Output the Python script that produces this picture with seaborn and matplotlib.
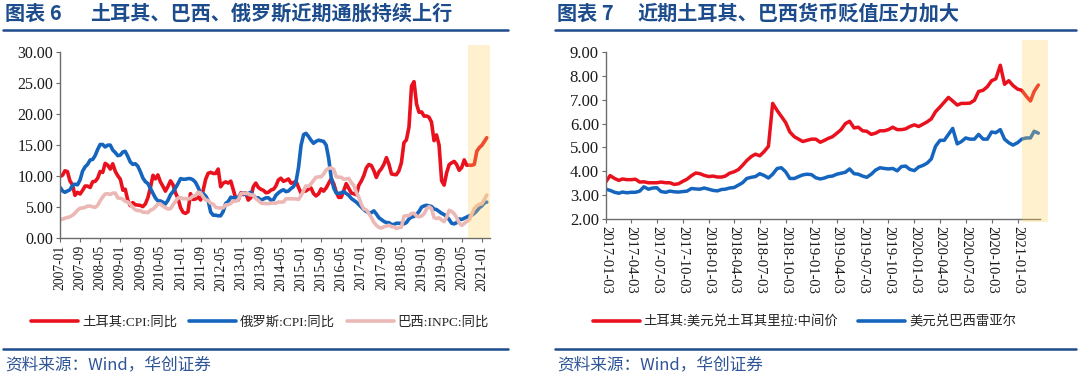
'''turkey / brazil / russia inflation and fx panels'''
import numpy as np
import pandas as pd
import seaborn as sns
import matplotlib.pyplot as plt
import matplotlib.dates as mdates
from matplotlib import ticker, transforms
from matplotlib.lines import Line2D
from matplotlib.patches import Rectangle

#region data
# left panel: monthly yoy, 2007-01 .. 2021-03
CPI_START = '2007-01-01'
turkey_cpi = [
    9.93, 10.16, 10.86, 10.72, 9.23, 8.60, 6.90, 7.39, 7.12, 7.70, 8.40, 8.39,
    8.17, 9.10, 9.15, 9.66, 10.74, 10.61, 12.06, 11.77, 11.13, 11.99, 10.76, 10.06,
    9.50, 7.73, 7.89, 6.13, 5.24, 5.73, 5.39, 5.33, 5.27, 5.08, 5.53, 6.53,
    8.19, 10.13, 9.56, 10.19, 9.10, 8.37, 7.58, 8.33, 9.24, 8.62, 7.29, 6.40,
    4.90, 4.16, 3.99, 4.26, 7.17, 6.24, 6.31, 6.65, 6.15, 7.66, 9.48, 10.45,
    10.61, 10.43, 10.43, 11.14, 8.28, 8.87, 9.07, 8.88, 9.19, 7.80, 6.37, 6.16,
    7.31, 7.03, 7.29, 6.13, 6.51, 8.30, 8.88, 8.17, 7.88, 7.71, 7.32, 7.40,
    7.75, 7.89, 8.39, 9.38, 9.66, 9.16, 9.32, 9.54, 8.86, 8.96, 9.15, 8.17,
    7.24, 7.55, 7.61, 7.91, 8.09, 7.20, 6.81, 7.14, 7.95, 7.58, 8.10, 8.81,
    9.58, 8.78, 7.46, 6.57, 6.58, 7.64, 8.79, 8.05, 7.28, 7.16, 7.00, 8.53,
    9.22, 10.13, 11.29, 11.87, 11.72, 10.90, 9.79, 10.68, 11.20, 11.90, 12.98, 11.92,
    10.35, 10.26, 10.23, 10.85, 12.15, 15.39, 15.85, 17.90, 24.52, 25.24, 21.62, 20.30,
    20.35, 19.67, 19.71, 19.50, 18.71, 15.72, 16.65, 15.01, 9.26, 8.55, 10.56, 11.84,
    12.15, 12.37, 11.86, 10.94, 11.39, 12.62, 11.76, 11.77, 11.75, 11.89, 14.03, 14.60,
    14.97, 15.61, 16.19]
russia_cpi = [
    8.2, 7.6, 7.4, 7.6, 7.8, 8.5, 8.7, 8.6, 9.4, 10.8, 11.5, 11.9,
    12.6, 12.7, 13.3, 14.3, 15.1, 15.1, 14.7, 15.0, 15.0, 14.2, 13.8, 13.3,
    13.4, 13.9, 14.0, 13.2, 12.3, 11.9, 12.0, 11.6, 10.7, 9.7, 9.1, 8.8,
    8.0, 7.2, 6.5, 6.0, 6.0, 5.8, 5.5, 6.1, 7.0, 7.5, 8.1, 8.8,
    9.6, 9.5, 9.5, 9.6, 9.6, 9.4, 9.0, 8.2, 7.2, 7.2, 6.8, 6.1,
    4.2, 3.7, 3.7, 3.6, 3.6, 4.3, 5.6, 5.9, 6.6, 6.5, 6.5, 6.6,
    7.1, 7.3, 7.0, 7.2, 7.4, 6.9, 6.5, 6.5, 6.1, 6.3, 6.5, 6.5,
    6.1, 6.2, 6.9, 7.3, 7.6, 7.8, 7.5, 7.6, 8.0, 8.3, 9.1, 11.4,
    15.0, 16.7, 16.9, 16.4, 15.8, 15.3, 15.6, 15.8, 15.7, 15.6, 15.0, 12.9,
    9.8, 8.1, 7.3, 7.2, 7.3, 7.5, 7.2, 6.9, 6.4, 6.1, 5.8, 5.4,
    5.0, 4.6, 4.3, 4.1, 4.1, 4.4, 3.9, 3.3, 3.0, 2.7, 2.5, 2.5,
    2.2, 2.2, 2.4, 2.4, 2.4, 2.3, 2.5, 3.1, 3.4, 3.5, 3.8, 4.3,
    5.0, 5.2, 5.3, 5.2, 5.1, 4.7, 4.6, 4.3, 4.0, 3.8, 3.5, 3.0,
    2.4, 2.3, 2.5, 3.1, 3.0, 3.2, 3.4, 3.6, 3.7, 4.0, 4.4, 4.9,
    5.2, 5.7, 5.8]
brazil_inpc = [
    2.99, 3.05, 3.22, 3.34, 3.44, 3.69, 4.03, 4.51, 4.83, 4.84, 4.98, 5.16,
    5.17, 5.05, 4.96, 5.29, 6.02, 6.63, 7.12, 7.15, 7.04, 7.26, 7.26, 6.48,
    6.43, 6.27, 5.94, 5.83, 5.45, 4.94, 4.57, 4.44, 4.44, 4.18, 4.18, 4.11,
    4.51, 4.68, 5.02, 5.49, 5.52, 5.17, 4.92, 4.69, 4.75, 5.39, 5.95, 6.47,
    6.53, 6.35, 6.39, 6.30, 6.44, 6.80, 6.87, 7.40, 7.30, 6.66, 6.17, 6.08,
    5.63, 5.47, 4.97, 4.88, 4.86, 4.90, 5.36, 5.39, 5.58, 5.99, 5.95, 6.20,
    7.16, 7.22, 7.22, 7.16, 6.95, 6.97, 6.38, 6.07, 5.69, 5.58, 5.58, 5.56,
    5.63, 5.68, 5.62, 5.82, 5.82, 5.82, 6.33, 6.35, 6.34, 6.34, 6.33, 6.23,
    6.86, 7.68, 8.42, 8.34, 8.76, 9.31, 9.81, 9.88, 9.90, 10.33, 10.97, 11.28,
    11.31, 11.08, 9.91, 9.83, 9.82, 9.49, 9.56, 9.62, 8.98, 8.50, 7.39, 6.58,
    5.44, 4.69, 4.57, 3.99, 3.35, 2.56, 2.08, 1.73, 1.63, 1.83, 1.95, 2.07,
    1.87, 1.81, 1.56, 1.69, 1.76, 3.53, 3.61, 3.64, 3.97, 4.00, 3.56, 3.43,
    3.57, 3.94, 4.67, 5.07, 4.78, 3.31, 3.16, 3.28, 2.92, 2.67, 3.37, 4.48,
    4.30, 3.92, 3.31, 2.46, 2.05, 2.35, 2.69, 2.94, 3.89, 4.77, 5.20, 5.45,
    5.53, 6.22, 6.94]

# right panel: fx, sampled on the 3rd and 18th of each month, 2017-01 .. 2021-03
FX_START = '2017-01-01'
usd_try = [
    3.56, 3.82, 3.70, 3.62, 3.68, 3.65, 3.65, 3.67, 3.55, 3.56, 3.52, 3.52,
    3.52, 3.55, 3.52, 3.52, 3.45, 3.48, 3.58, 3.67, 3.82, 3.93, 3.90, 3.83,
    3.78, 3.80, 3.76, 3.76, 3.80, 3.92, 3.98, 4.07, 4.25, 4.45, 4.62, 4.72,
    4.65, 4.82, 5.05, 6.85, 6.55, 6.30, 6.05, 5.65, 5.45, 5.35, 5.25, 5.30,
    5.35, 5.35, 5.22, 5.30, 5.38, 5.45, 5.60, 5.75, 6.00, 6.10, 5.82, 5.85,
    5.70, 5.68, 5.55, 5.60, 5.70, 5.70, 5.75, 5.85, 5.75, 5.75, 5.78, 5.88,
    5.95, 5.88, 5.98, 6.08, 6.20, 6.50, 6.70, 6.90, 7.10, 6.95, 6.78, 6.85,
    6.85, 6.86, 6.98, 7.35, 7.40, 7.55, 7.80, 7.88, 8.45, 7.65, 7.80, 7.60,
    7.45, 7.40, 7.15, 6.95, 7.35, 7.62]
usd_brl = [
    3.25, 3.20, 3.12, 3.08, 3.13, 3.10, 3.12, 3.12, 3.17, 3.35, 3.25, 3.30,
    3.31, 3.15, 3.12, 3.17, 3.14, 3.13, 3.15, 3.17, 3.28, 3.26, 3.25, 3.30,
    3.25, 3.20, 3.18, 3.24, 3.25, 3.30, 3.32, 3.42, 3.52, 3.70, 3.75, 3.78,
    3.90, 3.83, 3.72, 3.88, 4.12, 4.15, 3.98, 3.70, 3.70, 3.78, 3.85, 3.88,
    3.86, 3.73, 3.68, 3.72, 3.78, 3.80, 3.88, 3.92, 3.96, 4.10, 3.90, 3.88,
    3.80, 3.75, 3.88, 4.05, 4.15, 4.12, 4.10, 4.12, 4.02, 4.20, 4.22, 4.08,
    4.03, 4.18, 4.25, 4.35, 4.52, 5.05, 5.30, 5.30, 5.55, 5.80, 5.15, 5.25,
    5.40, 5.35, 5.35, 5.55, 5.35, 5.35, 5.65, 5.62, 5.75, 5.35, 5.20, 5.10,
    5.20, 5.35, 5.40, 5.40, 5.68, 5.60]

CPI_LABELS = ['土耳其:CPI:同比', '俄罗斯:CPI:同比', '巴西:INPC:同比']
FX_LABELS = ['土耳其:美元兑土耳其里拉:中间价', '美元兑巴西雷亚尔']
TITLE_NO = ['图表 6', '图表 7']
TITLE_TXT = ['土耳其、巴西、俄罗斯近期通胀持续上行', '近期土耳其、巴西货币贬值压力加大']
SOURCE = '资料来源：Wind，华创证券'
#endregion

RED = '#E8111D'
BLUE = '#1565BF'
PINK = '#EBB8B6'
NAVY = '#1D4C8C'
AXC = '#6b6b6b'
SHADE = '#FFD25A'
SERIF = 'Liberation Serif'
MIXED = [SERIF, 'Noto Sans CJK SC']

sns.set_style('ticks')
plt.rcParams['font.family'] = MIXED
plt.rcParams['axes.edgecolor'] = AXC

months = pd.date_range(CPI_START, periods=len(turkey_cpi), freq='MS')
cpi = pd.DataFrame({'date': np.tile(months, 3),
                    'value': turkey_cpi + russia_cpi + brazil_inpc,
                    'series': np.repeat(CPI_LABELS, len(months))})

fx_months = pd.date_range(FX_START, periods=(len(usd_try) + 1) // 2, freq='MS')
fx_dates = np.array([d + pd.Timedelta(days=k) for d in fx_months for k in (2, 17)])[:len(usd_try)]
fx = pd.DataFrame({'date': np.tile(fx_dates, 2),
                   'value': usd_try + usd_brl,
                   'series': np.repeat(FX_LABELS, len(fx_dates))})
fx['date'] = pd.to_datetime(fx['date'])

fig = plt.figure(figsize=(10.8, 3.75), dpi=100)
ax1 = fig.add_axes([0.0556, 0.365, 0.398, 0.496])
ax2 = fig.add_axes([0.561, 0.416, 0.402, 0.445])

sns.lineplot(data=cpi, x='date', y='value', hue='series', hue_order=CPI_LABELS,
             palette=[RED, BLUE, PINK], linewidth=2.6, ax=ax1, legend=False)
sns.lineplot(data=fx, x='date', y='value', hue='series', hue_order=FX_LABELS,
             palette=[RED, BLUE], linewidth=2.5, ax=ax2, legend=False)


def style_axis(ax, ylim, yticks):
    '''common axis dressing'''
    ax.set_ylim(*ylim)
    ax.set_yticks(yticks)
    ax.yaxis.set_major_formatter(ticker.FormatStrFormatter('%.2f'))
    ax.set_xlabel('')
    ax.set_ylabel('')
    sns.despine(ax=ax)
    ax.spines['left'].set_linewidth(1.0)
    ax.spines['bottom'].set_linewidth(1.0)
    ax.tick_params(length=3, width=0.8, color=AXC, labelcolor='#1a1a1a', pad=2,
                   labelfontfamily=SERIF)


style_axis(ax1, (0, 30), np.arange(0, 31, 5))
ax1.set_xlim(months[0], pd.Timestamp('2021-04-08'))
ax1.set_xticks(months[::8])
ax1.set_xticklabels([d.strftime('%Y-%m') for d in months[::8]], rotation=90,
                    family=SERIF)
ax1.tick_params(axis='y', labelsize=11.5)
ax1.tick_params(axis='x', labelsize=9.8)

style_axis(ax2, (2, 9), np.arange(2, 10, 1))
ax2.set_xlim(pd.Timestamp('2017-01-03'), pd.Timestamp('2021-03-24'))
q_ticks = pd.date_range('2017-01-01', '2021-01-01', freq='QS') + pd.Timedelta(days=2)
ax2.set_xticks(q_ticks)
ax2.set_xticklabels([d.strftime('%Y-%m-%d') for d in q_ticks], rotation=-90,
                    family=SERIF)
ax2.tick_params(axis='y', labelsize=12)
ax2.tick_params(axis='x', labelsize=10.5)


# highlighted recent window
def shade(ax, start, end, y0, h):
    trans = transforms.blended_transform_factory(ax.transData, ax.transAxes)
    x0 = mdates.date2num(pd.Timestamp(start))
    x1 = mdates.date2num(pd.Timestamp(end))
    ax.add_patch(Rectangle((x0, y0), x1 - x0, h, transform=trans, facecolor=SHADE,
                           alpha=0.3, edgecolor='none', zorder=5, clip_on=False))


shade(ax1, '2020-07-20', '2021-04-05', 0, 1.038)
shade(ax2, '2021-01-20', '2021-04-22', -0.018, 1.09)

# legends
h1 = [Line2D([], [], color=c, lw=2.6) for c in (RED, BLUE, PINK)]
fig.legend(h1, CPI_LABELS, loc='center', bbox_to_anchor=(0.241, 0.141), ncol=3,
           frameon=False, handlelength=3.5, handletextpad=0.3, columnspacing=0.9,
           prop={'family': MIXED, 'size': 9.6})
h2 = [Line2D([], [], color=c, lw=2.6) for c in (RED, BLUE)]
fig.legend(h2, FX_LABELS, loc='center', bbox_to_anchor=(0.745, 0.141), ncol=2,
           frameon=False, handlelength=3.5, handletextpad=0.3, columnspacing=1.5,
           prop={'family': MIXED, 'size': 9.6})

# titles, rules and source notes
for x0, x1, tx, no, title in ((0.003, 0.470, 0.083, TITLE_NO[0], TITLE_TXT[0]),
                              (0.514, 0.996, 0.590, TITLE_NO[1], TITLE_TXT[1])):
    fig.text(x0 + 0.002, 0.965, no, ha='left', va='center', fontsize=14.5,
             fontweight='bold', color=NAVY, family=['Noto Sans CJK SC'])
    fig.text(tx, 0.965, title, ha='left', va='center', fontsize=14.5,
             fontweight='bold', color=NAVY, family=['Noto Sans CJK SC'])
    fig.add_artist(Line2D([x0, x1], [0.921, 0.921], transform=fig.transFigure,
                          color=NAVY, lw=1.8))
    fig.add_artist(Line2D([x0, x1], [0.069, 0.069], transform=fig.transFigure,
                          color=NAVY, lw=1.8))
    fig.text(x0 + 0.002, 0.027, SOURCE, ha='left', va='center', fontsize=12,
             style='italic', color='#2F5597', family=['Noto Sans CJK SC'])

fig.savefig('out.png', dpi=100)
